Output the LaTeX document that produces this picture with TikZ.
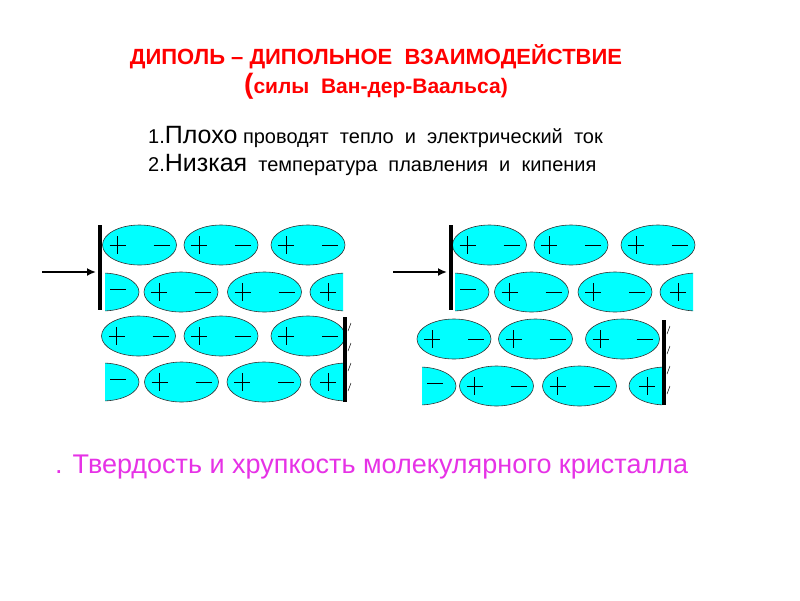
\documentclass[tikz,border=0pt]{standalone}
\usepackage{fontspec}
\usetikzlibrary{arrows.meta}
\setmainfont{Liberation Sans}
\definecolor{aqua}{RGB}{0,255,255}
\definecolor{pinkish}{RGB}{230,50,230}
\begin{document}
\begin{tikzpicture}[x=1pt,y=-1pt,
  mol/.style={fill=aqua,draw=black!80,line width=0.6pt},
  wall/.style={line width=4pt},
  sgn/.style={line width=0.6pt},
  push/.style={line width=2pt,-{Latex[length=9pt,width=8pt]}}]
\useasboundingbox (0,0) rectangle (800,600);
\def\pl#1#2{\draw[sgn] (#1-8,#2)--(#1+8,#2) (#1,#2-9)--(#1,#2+9);}
\def\mi#1#2{\draw[sgn] (#1-8,#2)--(#1+8,#2);}
\def\mol#1#2{\draw[mol] (#1,#2) ellipse [x radius=37,y radius=20];\pl{#1-22}{#2}\mi{#1+22}{#2}}
\def\lhalf#1#2{\begin{scope}\clip (#1,#2-25) rectangle (#1+40,#2+25);\draw[mol] (#1-3,#2) ellipse [x radius=37,y radius=19];\end{scope}\mi{#1+13}{#2-3}}
\def\rhalf#1#2{\begin{scope}\clip (#1-40,#2-25) rectangle (#1,#2+25);\draw[mol] (#1+4,#2) ellipse [x radius=37,y radius=19];\end{scope}\pl{#1-15}{#2}}
\node[text=red,font=\bfseries\fontsize{22}{26}\selectfont] (t1) at (376,57) {ДИПОЛЬ – ДИПОЛЬНОЕ\ \ ВЗАИМОДЕЙСТВИЕ};
\node[text=red,font=\bfseries\fontsize{21}{26}\selectfont] (t2) at (376,86) {{\fontsize{28}{30}\selectfont(}силы\ \ Ван-дер-Ваальса)};
\node[anchor=west,inner sep=0pt,font=\fontsize{20}{24}\selectfont] (l1) at (148,137) {1.{\fontsize{25}{28}\selectfont Плохо} проводят\ \ тепло\ \ и\ \ электрический\ \ ток};
\node[anchor=west,inner sep=0pt,font=\fontsize{20}{24}\selectfont] (l2) at (148,165) {2.{\fontsize{25}{28}\selectfont Низкая}\ \ температура\ \ плавления\ \ и\ \ кипения};
\node[anchor=west,inner sep=0pt,text=pinkish,font=\fontsize{27}{30}\selectfont] (l3) at (55,467) {. Твердость и хрупкость\ молекулярного\ кристалла};
% left panel
\mol{139.5}{245}\mol{221}{245}\mol{308}{245}
\lhalf{105}{292}\mol{181}{292}\mol{264.5}{292}\rhalf{343}{292}
\mol{138.5}{336}\mol{221}{336}\mol{308}{336}
\lhalf{105}{382}\mol{181.5}{382}\mol{264}{382}\rhalf{343}{382}
\coordinate (wa1) at (100,225); \coordinate (wa2) at (100,310);
\draw[wall] (wa1)--(wa2);
\coordinate (wb1) at (345,317); \coordinate (wb2) at (345,402);
\draw[wall] (wb1)--(wb2);
\foreach \y in {327,347,367,387} \draw[line width=0.5pt] (348,\y+4)--(351,\y-4);
\coordinate (a1) at (42,272); \coordinate (a2) at (96,272);
\draw[push] (a1)--(a2);
% right panel
\mol{489.5}{245}\mol{571}{245}\mol{658}{245}
\lhalf{455}{292}\mol{531.5}{292}\mol{615}{292}\rhalf{693}{292}
\mol{454}{339}\mol{535.5}{339}\mol{622.5}{339}
\lhalf{422}{386}\mol{496.5}{386}\mol{579.5}{386}\rhalf{662}{386}
\coordinate (wc1) at (451,225); \coordinate (wc2) at (451,310);
\draw[wall] (wc1)--(wc2);
\coordinate (wd1) at (664,320); \coordinate (wd2) at (664,405);
\draw[wall] (wd1)--(wd2);
\foreach \y in {330,350,370,390} \draw[line width=0.5pt] (667,\y+4)--(670,\y-4);
\coordinate (b1) at (393,272); \coordinate (b2) at (447,272);
\draw[push] (b1)--(b2);
\end{tikzpicture}
\end{document}
